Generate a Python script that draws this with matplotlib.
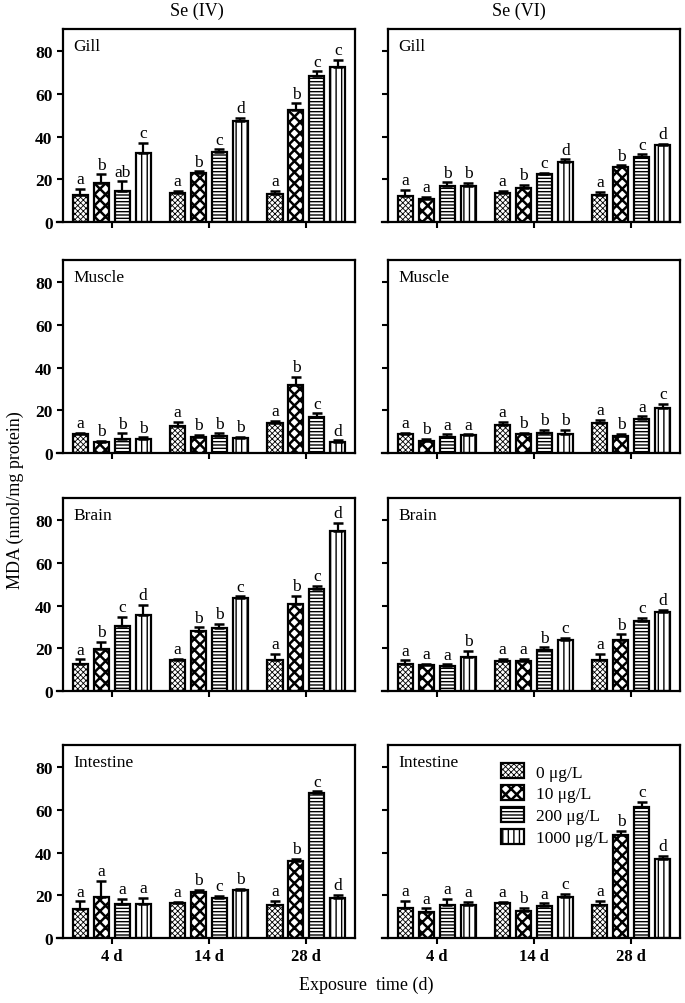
import numpy as np
import matplotlib
matplotlib.use("Agg")
import matplotlib.pyplot as plt

plt.rcParams['font.family'] = ['Liberation Serif', 'DejaVu Serif']
plt.rcParams['hatch.linewidth'] = 1.0
plt.rcParams['hatch.color'] = 'black'

# -------------------------------
# DATA
# rows = exposure day, columns = concentration
# -------------------------------

days = ['4 d', '14 d', '28 d']
concs = ['0 μg/L', '10 μg/L', '200 μg/L', '1000 μg/L']
tissues = ['Gill', 'Muscle', 'Brain', 'Intestine']
species = ['Se (IV)', 'Se (VI)']

gill_se4_mean = [[12.7, 18.1, 14.6, 32.4], [13.8, 22.8, 33.0, 47.5], [13.2, 52.5, 68.4, 72.6]]
gill_se4_sem = [[2.8, 4.3, 4.4, 4.8], [0.8, 1.0, 1.1, 1.4], [1.4, 3.1, 2.3, 3.4]]
gill_se4_sig = [['a', 'b', 'ab', 'c'], ['a', 'b', 'c', 'd'], ['a', 'b', 'c', 'c']]

gill_se6_mean = [[12.4, 10.8, 16.7, 16.7], [13.6, 16.1, 22.3, 27.9], [12.5, 25.7, 30.7, 36.1]]
gill_se6_sem = [[2.8, 1.1, 1.9, 1.6], [1.0, 1.2, 0.9, 1.5], [1.7, 0.8, 1.0, 0.6]]
gill_se6_sig = [['a', 'a', 'b', 'b'], ['a', 'b', 'c', 'd'], ['a', 'b', 'c', 'd']]

muscle_se4_mean = [[8.9, 5.0, 6.5, 6.5], [12.7, 7.3, 8.1, 7.0], [14.0, 31.8, 16.9, 5.3]]
muscle_se4_sem = [[0.7, 0.6, 2.7, 0.8], [1.9, 1.2, 1.1, 0.6], [1.2, 3.8, 1.7, 0.6]]
muscle_se4_sig = [['a', 'b', 'b', 'b'], ['a', 'b', 'b', 'b'], ['a', 'b', 'c', 'd']]

muscle_se6_mean = [[8.8, 5.6, 7.6, 8.4], [13.2, 8.8, 9.4, 9.1], [14.1, 8.2, 15.8, 21.2]]
muscle_se6_sem = [[0.5, 1.2, 1.2, 0.4], [1.5, 0.8, 1.4, 1.7], [1.4, 0.8, 1.4, 1.7]]
muscle_se6_sig = [['a', 'b', 'a', 'a'], ['a', 'b', 'b', 'b'], ['a', 'b', 'a', 'c']]

brain_se4_mean = [[12.7, 19.9, 30.3, 35.7], [14.3, 28.0, 29.5, 43.5], [14.4, 40.8, 47.8, 75.0]]
brain_se4_sem = [[2.1, 3.1, 4.6, 4.7], [0.9, 1.8, 1.9, 0.8], [3.1, 3.8, 1.4, 3.9]]
brain_se4_sig = [['a', 'b', 'c', 'd'], ['a', 'b', 'b', 'c'], ['a', 'b', 'c', 'd']]

brain_se6_mean = [[12.7, 12.1, 11.6, 15.9], [13.9, 14.2, 19.3, 23.8], [14.4, 23.7, 32.8, 37.2]]
brain_se6_sem = [[1.7, 0.7, 0.9, 2.8], [1.3, 0.8, 1.1, 1.1], [2.9, 2.9, 1.6, 1.0]]
brain_se6_sig = [['a', 'a', 'a', 'b'], ['a', 'a', 'b', 'c'], ['a', 'b', 'c', 'd']]

intestine_se4_mean = [[13.8, 19.2, 16.0, 15.8], [16.2, 21.5, 18.8, 22.5], [15.4, 36.2, 68.0, 18.8]]
intestine_se4_sem = [[3.4, 7.7, 2.3, 3.0], [0.7, 1.1, 0.9, 0.6], [2.0, 1.0, 0.8, 1.4]]
intestine_se4_sig = [['a', 'a', 'a', 'a'], ['a', 'b', 'c', 'b'], ['a', 'b', 'c', 'd']]

intestine_se6_mean = [[13.9, 12.2, 15.3, 15.7], [16.2, 12.9, 14.9, 19.3], [15.4, 48.4, 61.5, 37.0]]
intestine_se6_sem = [[3.4, 1.7, 3.0, 1.2], [0.7, 1.3, 1.4, 1.5], [1.9, 2.0, 2.3, 1.5]]
intestine_se6_sig = [['a', 'a', 'a', 'a'], ['a', 'b', 'a', 'c'], ['a', 'b', 'c', 'd']]

panels = [
    [(gill_se4_mean, gill_se4_sem, gill_se4_sig), (gill_se6_mean, gill_se6_sem, gill_se6_sig)],
    [(muscle_se4_mean, muscle_se4_sem, muscle_se4_sig), (muscle_se6_mean, muscle_se6_sem, muscle_se6_sig)],
    [(brain_se4_mean, brain_se4_sem, brain_se4_sig), (brain_se6_mean, brain_se6_sem, brain_se6_sig)],
    [(intestine_se4_mean, intestine_se4_sem, intestine_se4_sig),
     (intestine_se6_mean, intestine_se6_sem, intestine_se6_sig)],
]

# bar fill patterns for each concentration
hatches = ['xxxxxx', 'xxx', '-----', '|||']
hatch_lw = [0.6, 1.8, 1.0, 1.0]

# -------------------------------
# FIGURE LAYOUT
# -------------------------------

fig = plt.figure(figsize=(6.85, 10.04), dpi=100)

col_left = [0.092, 0.5664]
row_bottom = [0.7779, 0.5478, 0.3108, 0.0647]
ax_w = 0.4263
ax_h = 0.1922

x = np.arange(len(days))
pitch = 0.215
width = 0.155

for r, tissue in enumerate(tissues):
    for c in range(2):
        mean, sem, sig = panels[r][c]
        mean = np.array(mean)
        sem = np.array(sem)
        ax = fig.add_axes([col_left[c], row_bottom[r], ax_w, ax_h])

        for k in range(len(concs)):
            xk = x + (k - 1.5) * pitch
            bars = ax.bar(xk, mean[:, k], width=width, color='white', edgecolor='black',
                          linewidth=1.6, hatch=hatches[k], label=concs[k], zorder=2)
            for b in bars:
                if hasattr(b, 'set_hatch_linewidth'):
                    b.set_hatch_linewidth(hatch_lw[k])
            ax.errorbar(xk, mean[:, k], yerr=[np.zeros(len(days)), sem[:, k]], fmt='none',
                        ecolor='black', elinewidth=1.6, capsize=3.5, capthick=1.8, zorder=3)
            for d in range(len(days)):
                ax.text(xk[d], mean[d, k] + sem[d, k] + 0.8, sig[d][k], ha='center', va='bottom',
                        fontsize=12.5)

        ax.set_xlim(-0.5, 2.5)
        ax.set_ylim(0, 90.5)
        ax.set_yticks([0, 20, 40, 60, 80])
        ax.set_xticks(x)
        for sp in ax.spines.values():
            sp.set_linewidth(1.6)
        # x axis line pokes out a little past the y axis
        ax.spines['bottom'].set_bounds(-0.56, 2.5)
        ax.tick_params(direction='out', length=4, width=1.5)
        if c == 0:
            ax.set_yticklabels(['0', '20', '40', '60', '80'], fontsize=12.5, fontweight='bold')
        else:
            ax.set_yticklabels([])
        if r == len(tissues) - 1:
            ax.set_xticklabels(days, fontsize=12, fontweight='bold')
        else:
            ax.set_xticklabels([])

        ax.text(0.035, 0.955, tissue, transform=ax.transAxes, ha='left', va='top', fontsize=12.5)

        if r == len(tissues) - 1 and c == 1:
            leg = ax.legend(loc='upper left', bbox_to_anchor=(0.35, 0.96), frameon=False,
                            fontsize=12.5, handlelength=1.35, handleheight=0.95,
                            labelspacing=0.25, handletextpad=0.7, borderaxespad=0.2)
            for p, lw in zip(leg.get_patches(), hatch_lw):
                if hasattr(p, 'set_hatch_linewidth'):
                    p.set_hatch_linewidth(lw)

# titles and shared axis labels
fig.text(0.288, 0.989, species[0], ha='center', va='center', fontsize=13)
fig.text(0.758, 0.989, species[1], ha='center', va='center', fontsize=13)
fig.text(0.022, 0.502, 'MDA (nmol/mg protein)', rotation=90, ha='center', va='center', fontsize=13)
fig.text(0.534, 0.019, 'Exposure  time (d)', ha='center', va='center', fontsize=13)

fig.savefig('out.png', dpi=100)
